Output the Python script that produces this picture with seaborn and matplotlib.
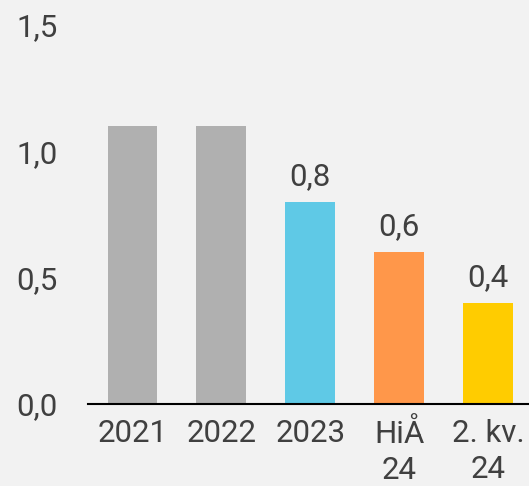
import pandas as pd
import seaborn as sns
import matplotlib.pyplot as plt

kategorier = ['2021', '2022', '2023', 'HiÅ\n24', '2. kv.\n24']
verdier = [1.1, 1.1, 0.8, 0.6, 0.4]
farger = ['#B0B0B0', '#B0B0B0', '#5FC9E6', '#FF974A', '#FFCC00']
vis_etikett = [False, False, True, True, True]
y_ticks = [0.0, 0.5, 1.0, 1.5]

df = pd.DataFrame({'kategori': kategorier, 'verdi': verdier})

sns.set_style("white")
plt.rcParams['font.family'] = ['Roboto', 'DejaVu Sans']
tekst = '#404040'
bg = '#F2F2F2'

fig = plt.figure(figsize=(5.29, 4.86), dpi=100, facecolor=bg)
ax = fig.add_axes([0.1664, 0.1687, 0.8336, 0.7799])
ax.set_facecolor(bg)

sns.barplot(data=df, x='kategori', y='verdi', hue='kategori',
            palette=farger, legend=False, width=0.56, saturation=1,
            linewidth=0, ax=ax)

# verdietiketter over de tre siste stolpene
for i, (v, vis) in enumerate(zip(verdier, vis_etikett)):
    if vis:
        ax.annotate(f'{v:.1f}'.replace('.', ','), (i, v), xytext=(0, 8),
                    textcoords='offset points', ha='center', va='bottom',
                    fontsize=22.5, color=tekst)

ax.set_ylim(0, 1.5)
ax.set_xlim(-0.5, 4.46)
ax.set_yticks(y_ticks)
ax.set_yticklabels([f'{t:.1f}'.replace('.', ',') for t in y_ticks])
ax.set_xlabel('')
ax.set_ylabel('')
ax.tick_params(axis='both', length=0, labelsize=22.5, colors=tekst)
ax.tick_params(axis='y', pad=22)
ax.tick_params(axis='x', pad=11)
for lbl in ax.get_xticklabels():
    lbl.set_linespacing(1.3)

for s in ['top', 'right', 'left']:
    ax.spines[s].set_visible(False)
ax.spines['bottom'].set_color('black')
ax.spines['bottom'].set_linewidth(1.5)

fig.savefig('out.png', dpi=100, facecolor=bg)
